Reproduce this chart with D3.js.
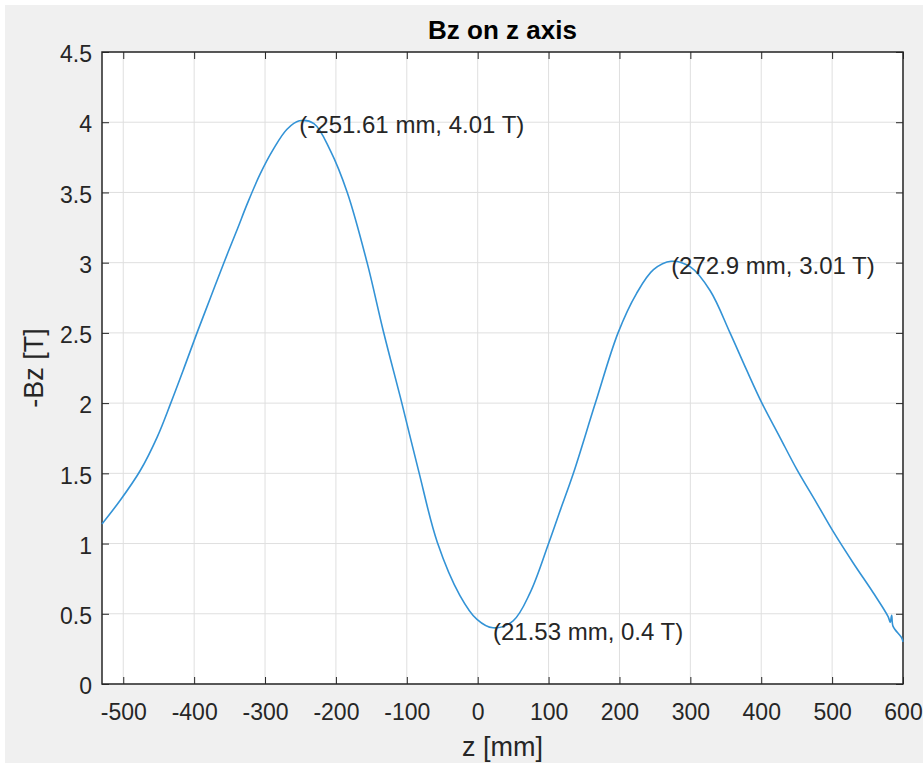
<!DOCTYPE html>
<html>
<head>
<meta charset="utf-8">
<script src="https://cdn.jsdelivr.net/npm/d3@7"></script>
<style>
  body { margin: 0; background: #fff; }
  text { font-family: Arial, "Liberation Sans", Helvetica, sans-serif; }
</style>
</head>
<body>
<div id="chart"></div>
<script>
// -Bz along the z axis
const zValues = [-530, -504, -476, -452, -433, -415, -396, -377, -358, -339, -325, -307, -288, -269,
  -251.61, -231, -208, -184, -156, -133, -107, -83, -57, -25, -1, 21.53, 50, 74, 100, 116, 135,
  166, 198, 224, 248, 272.9, 300, 328, 356, 379, 401, 426, 450, 478, 501, 530, 558, 579, 582,
  584, 586, 598, 600];
const bzValues = [1.14, 1.31, 1.52, 1.76, 2.00, 2.24, 2.50, 2.75, 3.00, 3.24, 3.42, 3.63, 3.81, 3.95,
  4.01, 3.99, 3.80, 3.50, 3.00, 2.51, 2.00, 1.51, 1.01, 0.63, 0.46, 0.40, 0.45, 0.65, 1.00, 1.23, 1.50,
  2.00, 2.50, 2.78, 2.95, 3.01, 2.97, 2.80, 2.50, 2.24, 2.00, 1.76, 1.53, 1.29, 1.09, 0.86, 0.65, 0.48, 0.44,
  0.49, 0.41, 0.33, 0.30];

const xTicks = [-500, -400, -300, -200, -100, 0, 100, 200, 300, 400, 500, 600];
const yTicks = [0, 0.5, 1, 1.5, 2, 2.5, 3, 3.5, 4, 4.5];

// data tips
const tipZ = [-251.61, 272.9, 21.53];
const tipBz = [4.01, 3.01, 0.4];
const tipText = ['(-251.61 mm, 4.01 T)', '(272.9 mm, 3.01 T)', '(21.53 mm, 0.4 T)'];

const width = 923;
const height = 763;
const margin = {top: 52, left: 102, bottom: 79, right: 20};

const data = zValues.map((z, i) => ({z: z, bz: bzValues[i]}));

const x = d3.scaleLinear()
  .domain([-530, 600])
  .range([margin.left, width - margin.right]);

const y = d3.scaleLinear()
  .domain([0, 4.5])
  .range([height - margin.bottom, margin.top]);

const axisColor = '#262626';

const svg = d3.select('#chart').append('svg')
  .attr('width', width).attr('height', height);

// figure background
svg.append('rect')
  .attr('x', 5).attr('y', 5)
  .attr('width', width - 5).attr('height', height - 5)
  .attr('fill', '#f0f0f0');

// axes background
svg.append('rect')
  .attr('x', x.range()[0]).attr('y', y.range()[1])
  .attr('width', x.range()[1] - x.range()[0])
  .attr('height', y.range()[0] - y.range()[1])
  .attr('fill', '#fff');

// grid
const grid = svg.append('g').attr('stroke', '#dfdfdf').attr('stroke-width', 1);
grid.selectAll('.gx').data(xTicks).enter().append('line')
  .attr('x1', d => x(d)).attr('x2', d => x(d))
  .attr('y1', y.range()[1]).attr('y2', y.range()[0]);
grid.selectAll('.gy').data(yTicks).enter().append('line')
  .attr('x1', x.range()[0]).attr('x2', x.range()[1])
  .attr('y1', d => y(d)).attr('y2', d => y(d));

// axes with inward ticks, mirrored on top and right
const xAxis = g => g
  .attr('transform', `translate(0, ${height - margin.bottom})`)
  .call(d3.axisBottom(x).tickValues(xTicks).tickSize(-7).tickPadding(20).tickSizeOuter(0)
    .tickFormat(d => String(d)))
  .call(g => g.select('.domain').remove())
  .call(g => g.selectAll('line').attr('stroke', axisColor))
  .call(g => g.selectAll('text').attr('fill', axisColor).attr('font-size', 23));

const yAxis = g => g
  .attr('transform', `translate(${margin.left}, 0)`)
  .call(d3.axisLeft(y).tickValues(yTicks).tickSize(-7).tickPadding(10).tickSizeOuter(0)
    .tickFormat(d => String(d)))
  .call(g => g.select('.domain').remove())
  .call(g => g.selectAll('line').attr('stroke', axisColor))
  .call(g => g.selectAll('text').attr('fill', axisColor).attr('font-size', 23).attr('dy', '0.42em'));

svg.append('g').call(xAxis).attr('font-family', null);
svg.append('g').call(yAxis).attr('font-family', null);

svg.append('g')
  .attr('transform', `translate(0, ${margin.top})`)
  .call(d3.axisTop(x).tickValues(xTicks).tickSize(-7).tickFormat(''))
  .call(g => g.select('.domain').remove())
  .call(g => g.selectAll('line').attr('stroke', axisColor));

svg.append('g')
  .attr('transform', `translate(${width - margin.right}, 0)`)
  .call(d3.axisRight(y).tickValues(yTicks).tickSize(-7).tickFormat(''))
  .call(g => g.select('.domain').remove())
  .call(g => g.selectAll('line').attr('stroke', axisColor));

// box
svg.append('rect')
  .attr('x', x.range()[0]).attr('y', y.range()[1])
  .attr('width', x.range()[1] - x.range()[0])
  .attr('height', y.range()[0] - y.range()[1])
  .attr('fill', 'none').attr('stroke', axisColor).attr('stroke-width', 1.5);

// the curve
const line = d3.line()
  .x(d => x(d.z))
  .y(d => y(d.bz))
  .curve(d3.curveCatmullRom.alpha(0.5));

svg.append('path')
  .datum(data)
  .attr('d', line)
  .attr('fill', 'none')
  .attr('stroke', '#3393d6')
  .attr('stroke-width', 1.6);

// data tip labels
svg.append('g').selectAll('text').data(tipText).enter().append('text')
  .attr('x', (d, i) => x(tipZ[i]))
  .attr('y', (d, i) => y(tipBz[i]) + 4)
  .attr('dy', '0.35em')
  .attr('font-size', 24)
  .attr('fill', '#262626')
  .text(d => d);

// title and labels
svg.append('text')
  .attr('x', (x.range()[0] + x.range()[1]) / 2)
  .attr('y', 39)
  .attr('text-anchor', 'middle')
  .attr('font-weight', 'bold')
  .attr('font-size', 26)
  .attr('fill', '#000')
  .text('Bz on z axis');

svg.append('text')
  .attr('x', (x.range()[0] + x.range()[1]) / 2)
  .attr('y', 756)
  .attr('text-anchor', 'middle')
  .attr('font-size', 27)
  .attr('fill', axisColor)
  .text('z [mm]');

svg.append('text')
  .attr('transform', `translate(43, ${(y.range()[0] + y.range()[1]) / 2}) rotate(-90)`)
  .attr('text-anchor', 'middle')
  .attr('font-size', 27)
  .attr('fill', axisColor)
  .text('-Bz [T]');
</script>
</body>
</html>
